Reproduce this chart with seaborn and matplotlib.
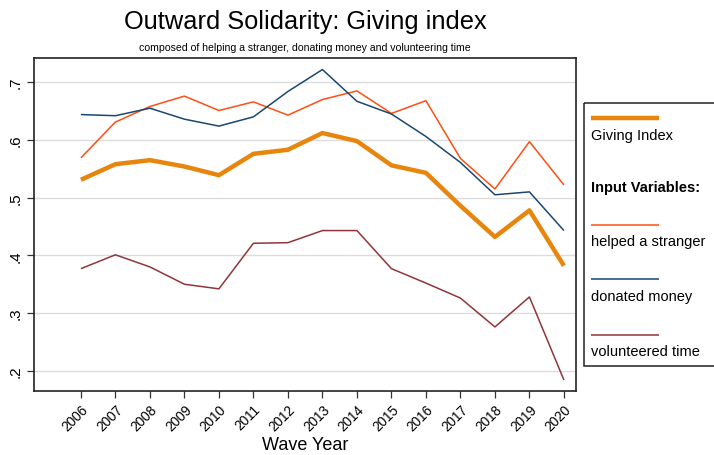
import matplotlib
matplotlib.use("Agg")
import matplotlib.pyplot as plt
import seaborn as sns
import pandas as pd
from matplotlib.patches import Rectangle

years = list(range(2006, 2021))
giving_index = [0.531, 0.558, 0.565, 0.554, 0.539, 0.576, 0.583, 0.612, 0.598, 0.556, 0.543, 0.486, 0.432, 0.478, 0.382]
helped_stranger = [0.569, 0.631, 0.658, 0.676, 0.651, 0.666, 0.643, 0.670, 0.685, 0.646, 0.668, 0.568, 0.515, 0.597, 0.522]
donated_money = [0.644, 0.642, 0.655, 0.636, 0.624, 0.640, 0.684, 0.722, 0.667, 0.645, 0.606, 0.561, 0.505, 0.510, 0.443]
volunteered_time = [0.377, 0.401, 0.380, 0.350, 0.342, 0.421, 0.422, 0.443, 0.443, 0.377, 0.352, 0.326, 0.276, 0.328, 0.184]

series_names = ["helped a stranger", "donated money", "volunteered time", "Giving Index"]
series_values = [helped_stranger, donated_money, volunteered_time, giving_index]
colors = {"Giving Index": "#E8850C", "helped a stranger": "#FF4F12",
          "donated money": "#1A476F", "volunteered time": "#90353B"}
widths = {"Giving Index": 3.2, "helped a stranger": 1.1,
          "donated money": 1.1, "volunteered time": 1.1}

rows = []
for name, vals in zip(series_names, series_values):
    for y, v in zip(years, vals):
        rows.append({"year": y, "value": v, "series": name})
df = pd.DataFrame(rows)

sns.set_theme(style="white")
plt.rcParams["font.family"] = ["Liberation Sans", "DejaVu Sans"]
plt.rcParams["text.color"] = "black"
plt.rcParams["axes.labelcolor"] = "black"
plt.rcParams["xtick.color"] = "black"
plt.rcParams["ytick.color"] = "black"

fig = plt.figure(figsize=(7.14, 4.56), dpi=100)
ax = fig.add_axes([34/714, 1 - 392/456, (576-34)/714, (392-59)/456])

for name in series_names:
    sub = df[df["series"] == name]
    sns.lineplot(data=sub, x="year", y="value", ax=ax, color=colors[name],
                 linewidth=widths[name], legend=False, solid_capstyle="butt")

ax.set_xlim(2004.64, 2020.35)
ax.set_ylim(0.165, 0.742)
ax.set_xticks(years)
ax.set_xticklabels([str(y) for y in years], rotation=45, ha="right",
                   rotation_mode="anchor", fontsize=9.8)
yt = [0.2, 0.3, 0.4, 0.5, 0.6, 0.7]
ax.set_yticks(yt)
ax.set_yticklabels(["." + str(int(round(v * 10))) for v in yt], rotation=90,
                   va="center", fontsize=11)
ax.tick_params(axis="both", direction="out", length=5, width=0.9, color="#333333",
               bottom=True, left=True, pad=3)
ax.grid(axis="y", color="#dcdcdc", linewidth=1.0)
ax.set_axisbelow(True)
for s in ax.spines.values():
    s.set_color("#222222")
    s.set_linewidth(1.2)
ax.set_xlabel("Wave Year", fontsize=13, labelpad=2)
ax.set_ylabel("")

fig.text(305/714, 1 - 22/456, "Outward Solidarity: Giving index", ha="center",
         va="center", fontsize=18.3)
fig.text(305/714, 1 - 48/456,
         "composed of helping a stranger, donating money and volunteering time",
         ha="center", va="center", fontsize=7.6)

# Legend panel
lax = fig.add_axes([583/714, 1 - 367/456, (714-583)/714, (367-103)/456])
lax.set_xlim(0, 131)
lax.set_ylim(264, 0)
lax.set_xticks([])
lax.set_yticks([])
for s in lax.spines.values():
    s.set_visible(False)
lax.add_patch(Rectangle((0.5, 0.5), 140, 263, fill=False, edgecolor="#222222",
                        linewidth=1.1, clip_on=False))
entries = [("Giving Index", 16, 33), ("helped a stranger", 123, 139),
           ("donated money", 177, 194), ("volunteered time", 233, 249)]
for name, ly, ty in entries:
    lax.plot([8, 76], [ly, ly], color=colors[name], linewidth=widths[name],
             solid_capstyle="butt")
    lax.text(8, ty, name, ha="left", va="center", fontsize=10.5)
lax.text(8, 85, "Input Variables:", ha="left", va="center", fontsize=10.5,
         fontweight="bold")

fig.savefig("out.png", dpi=100, facecolor="white")
